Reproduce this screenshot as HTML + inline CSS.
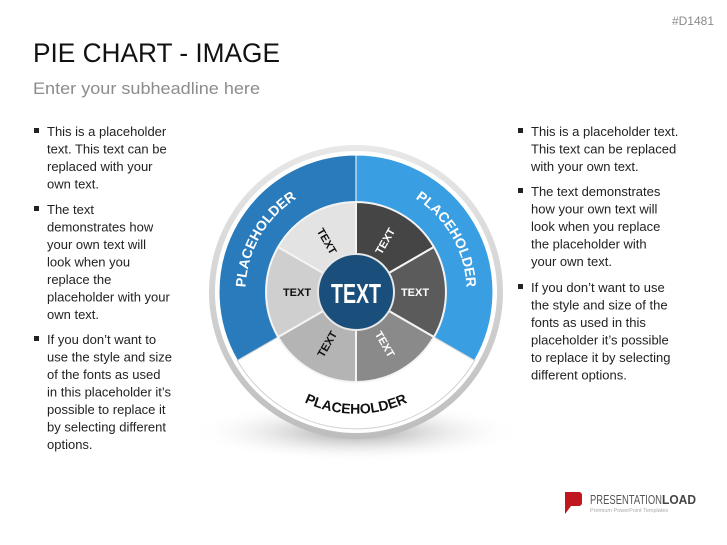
<!DOCTYPE html>
<html><head><meta charset="utf-8"><style>
html,body{margin:0;padding:0;background:#fff;}
svg{display:block;font-family:"Liberation Sans",sans-serif;}
</style></head><body>
<svg width="727" height="545" viewBox="0 0 727 545" xmlns="http://www.w3.org/2000/svg">
<defs>
<radialGradient id="sh" cx="50%" cy="50%" r="50%">
<stop offset="0" stop-color="#888" stop-opacity="0.8"/><stop offset="1" stop-color="#fff" stop-opacity="0"/>
</radialGradient>
<linearGradient id="rim" x1="0" y1="0" x2="0" y2="1">
<stop offset="0" stop-color="#e8e8e8"/><stop offset="1" stop-color="#bdbdbd"/>
</linearGradient>
<path id="pl" d="M 260.3 347.5 A 111 111 0 0 1 356 181"/>
<path id="pr" d="M 356 181 A 111 111 0 0 1 451.7 347.5"/>
<path id="pb" d="M 250.5 353 A 122 122 0 0 0 461.5 353"/>
</defs>
<rect width="727" height="545" fill="#fff"/>
<text x="714" y="25" font-size="12" fill="#8a8a8a" text-anchor="end">#D1481</text>
<text x="33" y="62" font-size="27" fill="#111" textLength="247" lengthAdjust="spacingAndGlyphs">PIE CHART - IMAGE</text>
<text x="33" y="94" font-size="17" fill="#8c8c8c" textLength="227" lengthAdjust="spacingAndGlyphs">Enter your subheadline here</text>

<g font-size="13" fill="#222">
<g fill="#222"><rect x="34" y="128" width="5" height="5"/><rect x="34" y="206" width="5" height="5"/><rect x="34" y="336" width="5" height="5"/>
<rect x="518" y="128" width="5" height="5"/><rect x="518" y="188" width="5" height="5"/><rect x="518" y="284" width="5" height="5"/></g>
<text x="47" y="136">This is a placeholder</text>
<text x="47" y="153.5">text. This text can be</text>
<text x="47" y="171">replaced with your</text>
<text x="47" y="188.5">own text.</text>
<text x="47" y="214">The text</text>
<text x="47" y="231.5">demonstrates how</text>
<text x="47" y="249">your own text will</text>
<text x="47" y="266.5">look when you</text>
<text x="47" y="284">replace the</text>
<text x="47" y="301.5">placeholder with your</text>
<text x="47" y="319">own text.</text>
<text x="47" y="344">If you don’t want to</text>
<text x="47" y="361.5">use the style and size</text>
<text x="47" y="379">of the fonts as used</text>
<text x="47" y="396.5">in this placeholder it’s</text>
<text x="47" y="414">possible to replace it</text>
<text x="47" y="431.5">by selecting different</text>
<text x="47" y="449">options.</text>

<text x="531" y="136">This is a placeholder text.</text>
<text x="531" y="153.5">This text can be replaced</text>
<text x="531" y="171">with your own text.</text>
<text x="531" y="196">The text demonstrates</text>
<text x="531" y="213.5">how your own text will</text>
<text x="531" y="231">look when you replace</text>
<text x="531" y="248.5">the placeholder with</text>
<text x="531" y="266">your own text.</text>
<text x="531" y="292">If you don’t want to use</text>
<text x="531" y="309.5">the style and size of the</text>
<text x="531" y="327">fonts as used in this</text>
<text x="531" y="344.5">placeholder it’s possible</text>
<text x="531" y="362">to replace it by selecting</text>
<text x="531" y="379.5">different options.</text>
</g>

<ellipse cx="356" cy="432" rx="165" ry="30" fill="url(#sh)"/>
<circle cx="356" cy="292" r="147" fill="url(#rim)"/>
<circle cx="356" cy="292" r="141" fill="#fff"/>
<path d="M356 155 A137 137 0 0 1 474.6 360.5 L433.9 337 A90 90 0 0 0 356 202 Z" fill="#3a9fe2" stroke="#fff" stroke-width="1"/>
<path d="M356 155 A137 137 0 0 0 237.4 360.5 L278.1 337 A90 90 0 0 1 356 202 Z" fill="#2a7bbb" stroke="#fff" stroke-width="1"/>
<path d="M237.4 360.5 A137 137 0 0 0 474.6 360.5 L433.9 337 A90 90 0 0 1 278.1 337 Z" fill="#fff" stroke="#d0d0d0" stroke-width="1"/>
<g stroke="#f4f4f4" stroke-width="2">
<path d="M356 292 L356 202 A90 90 0 0 1 433.9 247 Z" fill="#454545"/>
<path d="M356 292 L433.9 247 A90 90 0 0 1 433.9 337 Z" fill="#5b5b5b"/>
<path d="M356 292 L433.9 337 A90 90 0 0 1 356 382 Z" fill="#8a8a8a"/>
<path d="M356 292 L356 382 A90 90 0 0 1 278.1 337 Z" fill="#b4b4b4"/>
<path d="M356 292 L278.1 337 A90 90 0 0 1 278.1 247 Z" fill="#cfcfcf"/>
<path d="M356 292 L278.1 247 A90 90 0 0 1 356 202 Z" fill="#e3e3e3"/>
</g>
<circle cx="356" cy="292" r="38" fill="#1b4f7b" stroke="#e8e8e8" stroke-width="2"/>
<text x="356" y="303" font-size="28" font-weight="bold" font-family="Liberation Sans Narrow, Liberation Sans, sans-serif" fill="#fff" text-anchor="middle" textLength="50" lengthAdjust="spacingAndGlyphs">TEXT</text>

<g font-size="11" font-weight="bold" text-anchor="middle">
<text x="297" y="296" fill="#111">TEXT</text>
<text x="415" y="296" fill="#fff">TEXT</text>
<text transform="translate(327,241) rotate(60)" y="4" fill="#111">TEXT</text>
<text transform="translate(385,241) rotate(-60)" y="4" fill="#fff">TEXT</text>
<text transform="translate(327,344) rotate(-60)" y="4" fill="#111">TEXT</text>
<text transform="translate(385,344) rotate(60)" y="4" fill="#fff">TEXT</text>
</g>

<g font-size="14" font-weight="bold">
<text fill="#fff"><textPath href="#pl" startOffset="50%" text-anchor="middle">PLACEHOLDER</textPath></text>
<text fill="#fff"><textPath href="#pr" startOffset="50%" text-anchor="middle">PLACEHOLDER</textPath></text>
<text fill="#111"><textPath href="#pb" startOffset="50%" text-anchor="middle">PLACEHOLDER</textPath></text>
</g>

<path d="M565 492 h14 a3 3 0 0 1 3 3 v8 a3 3 0 0 1 -3 3 h-8 l-6 8 z" fill="#c0161d"/>
<text x="590" y="504" font-size="13" fill="#555" textLength="72" lengthAdjust="spacingAndGlyphs">PRESENTATION</text>
<text x="662" y="504" font-size="13" font-weight="bold" fill="#444" textLength="34" lengthAdjust="spacingAndGlyphs">LOAD</text>
<text x="590" y="512" font-size="5.5" fill="#aaa">Premium PowerPoint Templates</text>
</svg>
</body></html>
